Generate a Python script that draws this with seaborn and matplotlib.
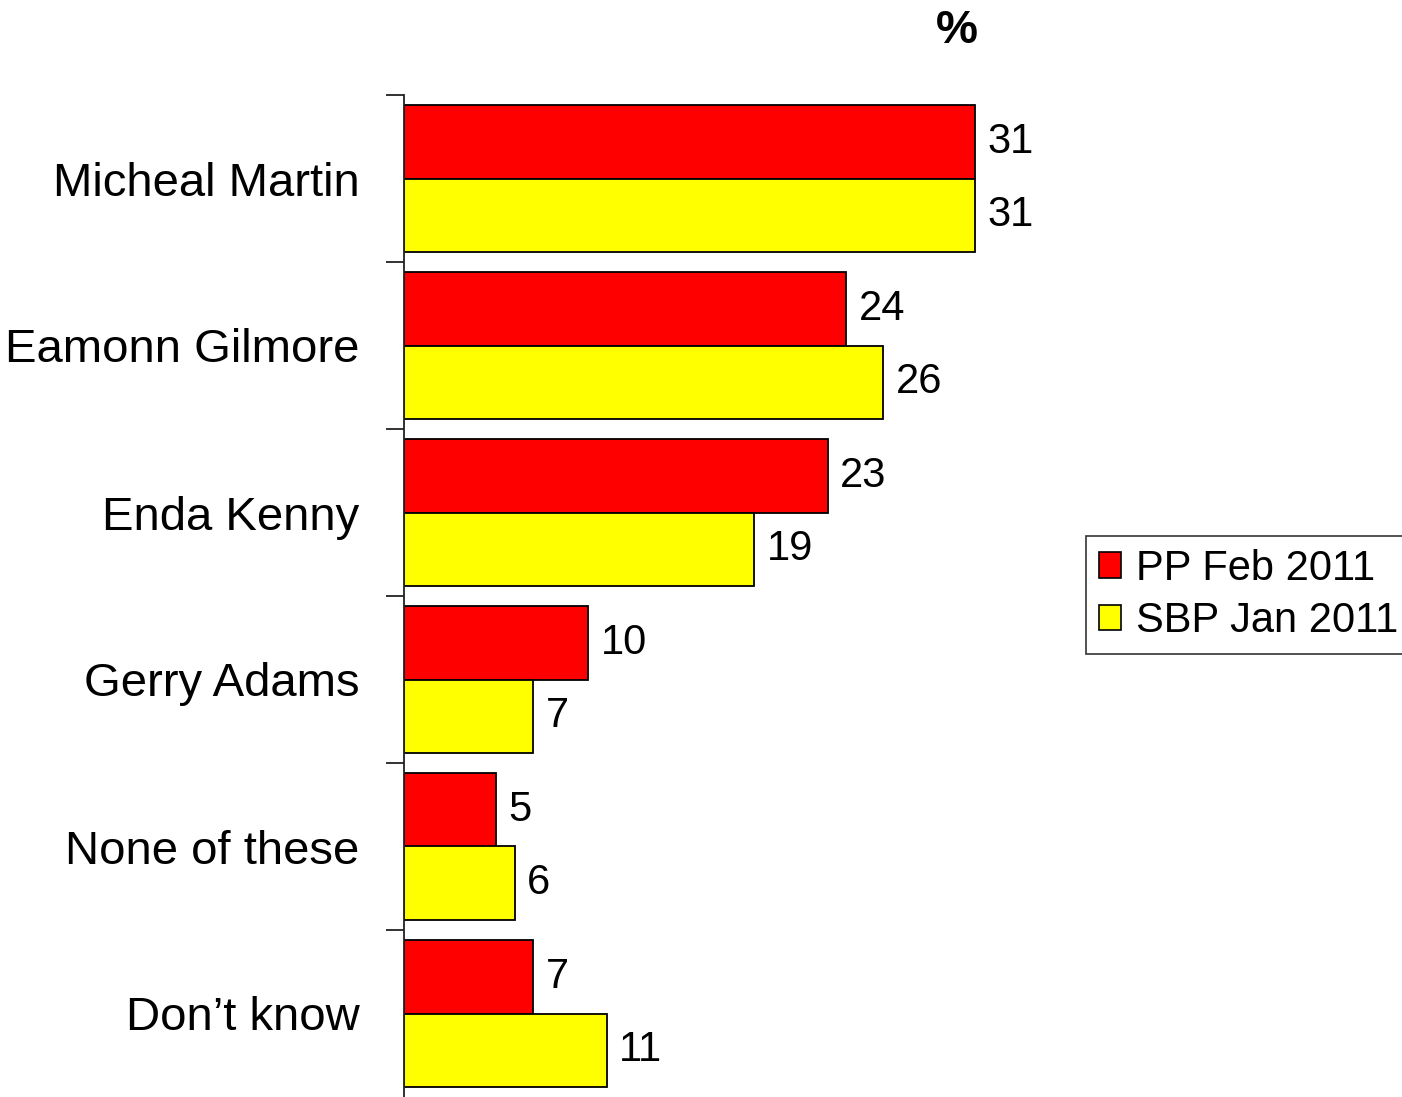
import matplotlib
matplotlib.use("Agg")
import matplotlib.pyplot as plt
import seaborn as sns
import pandas as pd
import numpy as np
from matplotlib.ticker import FixedLocator
from matplotlib.patches import Patch

categories = ["Micheal Martin", "Eamonn Gilmore", "Enda Kenny", "Gerry Adams", "None of these", "Don\u2019t know"]
pp_feb_2011 = [31, 24, 23, 10, 5, 7]
sbp_jan_2011 = [31, 26, 19, 7, 6, 11]
series_names = ["PP Feb 2011", "SBP Jan 2011"]
colors = ["#FF0000", "#FFFF00"]

df = pd.DataFrame({
    "Leader": categories * 2,
    "Value": pp_feb_2011 + sbp_jan_2011,
    "Poll": [series_names[0]] * len(categories) + [series_names[1]] * len(categories),
})

sns.set_theme(style="white")
plt.rcParams["font.family"] = ["Liberation Sans", "DejaVu Sans"]
plt.rcParams["text.color"] = "black"
plt.rcParams["ytick.color"] = "black"
plt.rcParams["xtick.color"] = "black"

fig = plt.figure(figsize=(14.02, 10.97), dpi=100)
ax = fig.add_axes([404 / 1402, 0.0, 645 / 1402, 1 - 95 / 1097])

sns.barplot(data=df, y="Leader", x="Value", hue="Poll", order=categories,
            hue_order=series_names, palette=colors, orient="h", width=0.88,
            edgecolor="black", linewidth=1.3, saturation=1, ax=ax, legend=False)

ax.set_xlim(0, 35)
ax.set_ylim(len(categories) - 0.5, -0.5)

for container in ax.containers:
    ax.bar_label(container, labels=[f"{v:g}" for v in container.datavalues],
                 padding=9, fontsize=30, color="black")

for s in ["top", "right", "bottom"]:
    ax.spines[s].set_visible(False)
ax.spines["left"].set_color("#222222")
ax.spines["left"].set_linewidth(1.3)

ax.set_xticks([])
ax.set_xlabel("")
ax.set_ylabel("")
ax.yaxis.set_major_locator(FixedLocator(np.arange(-0.5, len(categories) - 1, 1.0)))
ax.yaxis.set_minor_locator(FixedLocator(np.arange(len(categories))))
ax.set_yticklabels([], minor=False)
ax.set_yticks(np.arange(len(categories)), labels=categories, minor=True)
ax.tick_params(axis="y", which="major", left=True, length=13, width=1.3, color="#222222")
ax.tick_params(axis="y", which="minor", left=False, length=0, pad=32, labelsize=34,
               labelcolor="black")

fig.text(957 / 1402, 1 - 31 / 1097, "%", fontsize=34, fontweight="bold",
         ha="center", va="center", color="black")

handles = [Patch(facecolor=c, edgecolor="black", linewidth=1.2) for c in colors]
leg = fig.legend(handles, series_names, loc="center left",
                 bbox_to_anchor=(1086 / 1402, 1 - 595 / 1097), fontsize=30,
                 frameon=True, fancybox=False, edgecolor="black",
                 handlelength=0.55, handleheight=0.55, handletextpad=0.35,
                 borderpad=0.3, labelspacing=0.3, borderaxespad=0)
leg.get_frame().set_linewidth(1.2)
for t in leg.get_texts():
    t.set_color("black")

fig.savefig("out.png", dpi=100)
